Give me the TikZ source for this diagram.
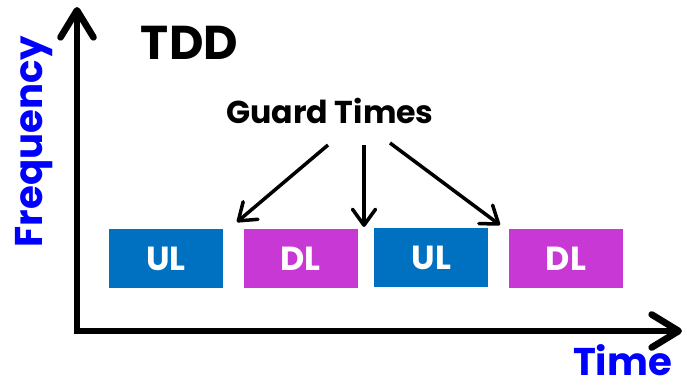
\documentclass[tikz,border=0pt]{standalone}
\usepackage{fontspec}
\setmainfont{Poppins}
\usetikzlibrary{arrows.meta,positioning}

\definecolor{ulblue}{RGB}{0,112,192}
\definecolor{dlpink}{RGB}{200,56,212}
\definecolor{axisblue}{RGB}{0,0,255}

\tikzset{
    axis/.style={line width=3.8pt,{Straight Barb[length=0.54cm,width=0.66cm,round]}-{Straight Barb[length=0.54cm,width=0.66cm,round]}},
    guardarrow/.style={line width=2pt,-{Straight Barb[length=0.32cm,width=0.46cm,round]}},
    slot/.style={minimum width=2.28cm,minimum height=1.18cm,inner sep=0pt,text=white,font=\fontsize{19}{20}\selectfont\bfseries},
    axislabel/.style={text=axisblue,font=\fontsize{22}{24}\selectfont\bfseries,anchor=base,inner sep=0pt}
}

\begin{document}
\begin{tikzpicture}[x=0.02cm,y=-0.02cm]
    \useasboundingbox (0,0) rectangle (686,384);
    % axes
    \coordinate (origin) at (77,331);
    \coordinate (ytop) at (77,7);
    \coordinate (xend) at (682,331);
    \draw[axis] (ytop) -- (origin) -- (xend);
    \node[axislabel,rotate=90] (freq) at (42,141.5) {Frequency};
    \node[axislabel,text depth=0pt] (time) at (622.5,376) {Time};
    % title
    \node[anchor=base,inner sep=0pt,font=\fontsize{27}{30}\selectfont\bfseries] (tdd) at (189.5,60) {TDD};
    % slots
    \node[slot,fill=ulblue] (ul1) at (166,258.5) {UL};
    \node[slot,fill=dlpink,right=0.40cm of ul1] (dl1) {DL};
    \node[slot,fill=ulblue,right=0.32cm of dl1,yshift=0.02cm] (ul2) {UL};
    \node[slot,fill=dlpink,right=0.40cm of ul2,yshift=-0.02cm] (dl2) {DL};
    % guard times
    \node[anchor=base,inner sep=0pt,font=\fontsize{18}{20}\selectfont\bfseries] (guard) at (330,124) {Guard Times};
    \coordinate (g1) at (328,145);
    \coordinate (g2) at (364,145);
    \coordinate (g3) at (390,143);
    \coordinate (gap1) at (237,222);
    \coordinate (gap2) at (364,227);
    \coordinate (gap3) at (500,225);
    \draw[guardarrow] (g1) -- (gap1);
    \draw[guardarrow] (g2) -- (gap2);
    \draw[guardarrow] (g3) -- (gap3);
\end{tikzpicture}
\end{document}
